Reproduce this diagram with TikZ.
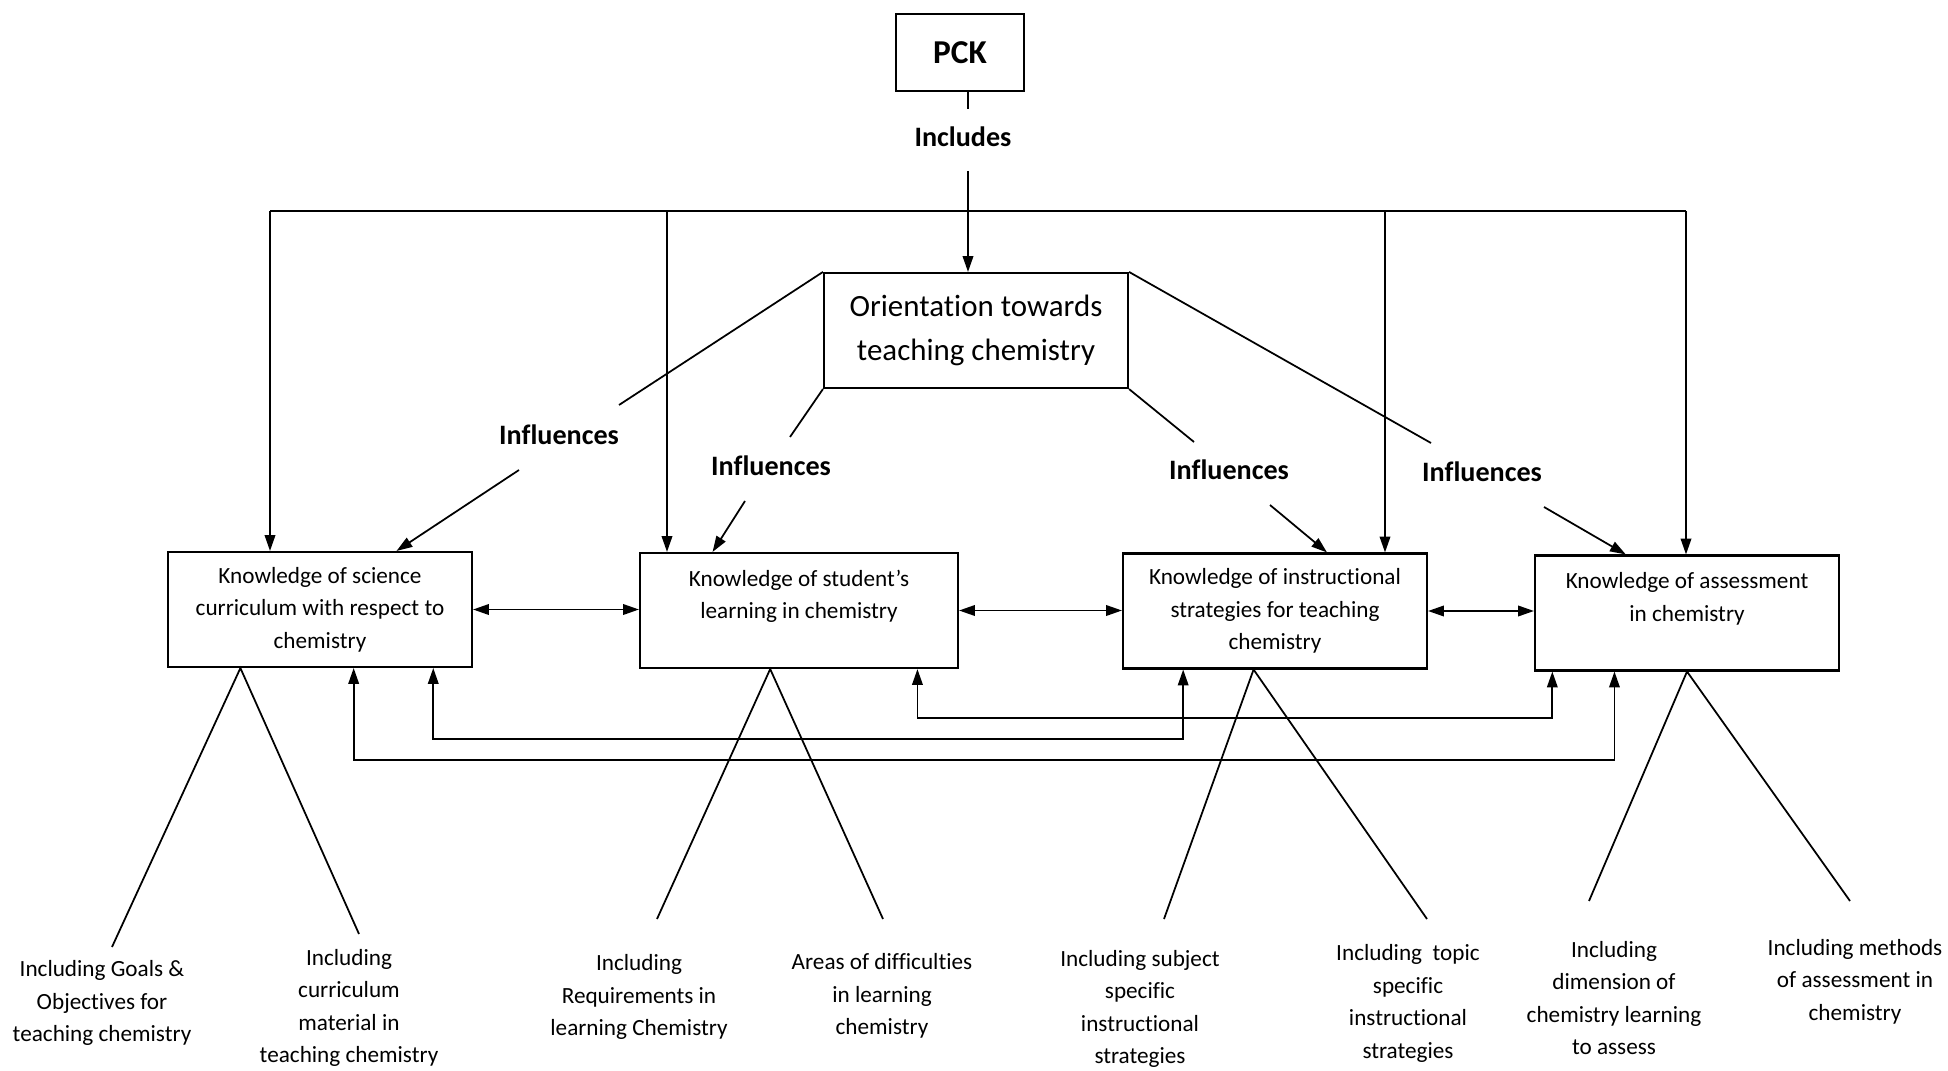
\documentclass[tikz,border=0pt]{standalone}
\usepackage{fontspec}
\setmainfont{Carlito}[Ligatures=TeX,RawFeature={-liga;-rlig;-clig;-calt;-dlig}]
\usetikzlibrary{calc,arrows.meta}

\begin{document}
\begin{tikzpicture}[
    >={Triangle[length=4.5pt,width=3pt]},
    line width=0.5pt,
    kbox/.style={draw, line width=0.6pt, minimum width=3.04cm, minimum height=1.15cm,
        inner sep=0pt, align=center, font=\fontsize{6.6}{9.25}\selectfont},
    word/.style={inner sep=0pt, font=\fontsize{8}{10}\selectfont\bfseries},
    leaf/.style={inner sep=0pt, align=center, font=\fontsize{6.6}{9.25}\selectfont}
]
\useasboundingbox (0,0) rectangle (19.48,10.70);

% top
\node[draw, line width=0.6pt, minimum width=1.28cm, minimum height=0.77cm,
    font=\fontsize{9.5}{11}\selectfont\bfseries] (pck) at (9.60,10.175) {PCK};
\node[word] (incl) at (9.63,9.33) {Includes};
\node[draw, line width=0.6pt, minimum width=3.04cm, minimum height=1.15cm, align=center,
    font=\fontsize{8.8}{12.4}\selectfont] (orient) at (9.76,7.395) {Orientation towards\\teaching chemistry};

% the four kinds of knowledge
\node[kbox] (ksc) at (3.20,4.605) {Knowledge of science\\curriculum with respect to\\chemistry};
\node[kbox, minimum width=3.18cm] (ksl) at (7.99,4.595) {Knowledge of student's\\learning in chemistry\\~};
\node[kbox] (kis) at (12.75,4.59) {Knowledge of instructional\\strategies for teaching\\chemistry};
\node[kbox] (kas) at (16.87,4.57) {Knowledge of assessment\\in chemistry\\~};

\node[word] (inf1) at (5.59,6.35) {Influences};
\node[word] (inf2) at (7.71,6.04) {Influences};
\node[word] (inf3) at (12.29,6.00) {Influences};
\node[word] (inf4) at (14.82,5.98) {Influences};

% PCK includes
\coordinate (t1) at (9.68,9.61);
\coordinate (t2) at (9.68,8.99);
\draw (pck.south -| t1) -- (t1);
\draw[->] (t2) -- (t2 |- orient.north);

\coordinate (bl) at (2.70,8.59);
\coordinate (b2) at (6.67,8.59);
\coordinate (b3) at (13.85,8.59);
\coordinate (br) at (16.86,8.59);
\draw (bl) -- (br);
\draw[->] (bl) -- (bl |- ksc.north);
\draw[->] (b2) -- (b2 |- ksl.north);
\draw[->] (b3) -- (b3 |- kis.north);
\draw[->] (br) -- (br |- kas.north);

% influences
\coordinate (i1) at (6.19,6.65);
\coordinate (i2) at (7.90,6.33);
\coordinate (i3) at (11.94,6.28);
\coordinate (i4) at (14.31,6.27);
\coordinate (j1) at (5.19,6.00);
\coordinate (j2) at (7.45,5.69);
\coordinate (j3) at (12.70,5.65);
\coordinate (j4) at (15.44,5.63);
\draw (orient.north west) -- (i1);
\draw (orient.south west) -- (i2);
\draw (orient.south east) -- (i3);
\draw (orient.north east) -- (i4);
\draw[->] (j1) -- ($(ksc.north west)!0.75!(ksc.north east)$);
\draw[->] (j2) -- ($(ksl.north west)!0.23!(ksl.north east)$);
\draw[->] (j3) -- ($(kis.north west)!0.67!(kis.north east)$);
\draw[->] (j4) -- ($(kas.north west)!0.30!(kas.north east)$);

% links between the boxes
\draw[<->] (ksc.east) -- (ksc.east -| ksl.west);
\draw[<->] (ksl.east) -- (ksl.east -| kis.west);
\draw[<->] (kis.east) -- (kis.east -| kas.west);

\coordinate (lv1) at (0,3.31);
\coordinate (lv2) at (0,3.52);
\coordinate (lv3) at (0,3.10);
\coordinate (f1a) at ($(kis.south west)!0.20!(kis.south east)$);
\coordinate (f1b) at ($(ksc.south west)!0.87!(ksc.south east)$);
\coordinate (f2a) at ($(kas.south west)!0.06!(kas.south east)$);
\coordinate (f2b) at ($(ksl.south west)!0.87!(ksl.south east)$);
\coordinate (f3a) at ($(kas.south west)!0.263!(kas.south east)$);
\coordinate (f3b) at ($(ksc.south west)!0.61!(ksc.south east)$);
\draw[<->] (f1a) -- (f1a |- lv1) -- (f1b |- lv1) -- (f1b);
\draw[<->] (f2a) -- (f2a |- lv2) -- (f2b |- lv2) -- (f2b);
\draw[<->] (f3a) -- (f3a |- lv3) -- (f3b |- lv3) -- (f3b);

% branches
\coordinate (ap1) at ($(ksc.south west)!0.24!(ksc.south east)$);
\coordinate (ap2) at ($(ksl.south west)!0.41!(ksl.south east)$);
\coordinate (ap3) at ($(kis.south west)!0.43!(kis.south east)$);
\coordinate (ap4) at (kas.south);
\coordinate (e1l) at (1.12,1.23);
\coordinate (e1r) at (3.59,1.36);
\coordinate (e2l) at (6.57,1.51);
\coordinate (e2r) at (8.83,1.51);
\coordinate (e3l) at (11.64,1.51);
\coordinate (e3r) at (14.27,1.51);
\coordinate (e4l) at (15.89,1.69);
\coordinate (e4r) at (18.50,1.69);
\draw (e1l) -- (ap1) -- (e1r);
\draw (e2l) -- (ap2) -- (e2r);
\draw (e3l) -- (ap3) -- (e3r);
\draw (e4l) -- (ap4) -- (e4r);

\node[leaf] (g1) at (1.02,0.67) {Including Goals \&\\Objectives for\\teaching chemistry};
\node[leaf] (g2) at (3.49,0.62) {Including\\curriculum\\material in\\teaching chemistry};
\node[leaf] (g3) at (6.39,0.73) {Including\\Requirements in\\learning Chemistry};
\node[leaf] (g4) at (8.82,0.74) {Areas of difficulties\\in learning\\chemistry};
\node[leaf] (g5) at (11.40,0.61) {Including subject\\specific\\instructional\\strategies};
\node[leaf] (g6) at (14.08,0.665) {Including\ \ topic\\specific\\instructional\\strategies};
\node[leaf] (g7) at (16.14,0.72) {Including\\dimension of\\chemistry learning\\to assess};
\node[leaf] (g8) at (18.55,0.885) {Including methods\\of assessment in\\chemistry};
\end{tikzpicture}
\end{document}
